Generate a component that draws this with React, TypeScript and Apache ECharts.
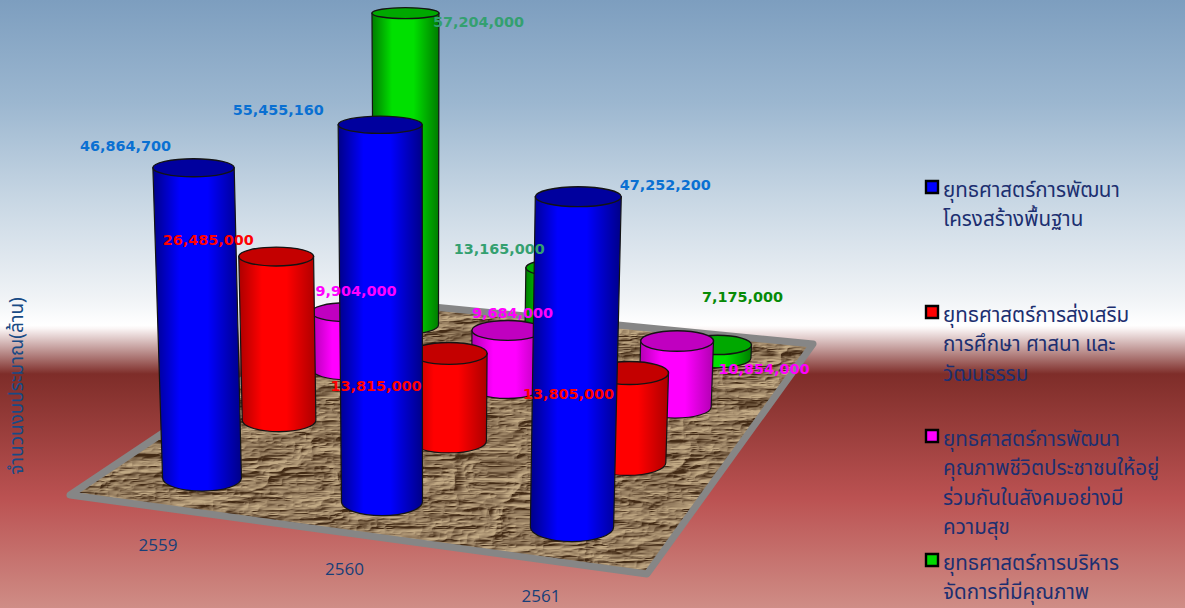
import React, { useEffect, useRef } from "react";
import * as echarts from "echarts";

// ---- data ----
const years = ["2559", "2560", "2561"];
const infrastructure = [46864700, 55455160, 47252200];
const education = [26485000, 13815000, 13805000];
const qualityOfLife = [9904000, 9684000, 10854000];
const management = [57204000, 13165000, 7175000];
const strategyNames = [
  "ยุทธศาสตร์การพัฒนา\nโครงสร้างพื้นฐาน",
  "ยุทธศาสตร์การส่งเสริม\nการศึกษา ศาสนา และ\nวัฒนธรรม",
  "ยุทธศาสตร์การพัฒนา\nคุณภาพชีวิตประชาชนให้อยู่\nร่วมกันในสังคมอย่างมี\nความสุข",
  "ยุทธศาสตร์การบริหาร\nจัดการที่มีคุณภาพ",
];
const axisTitle = "จำนวนงบประมาณ(ล้าน)";
const strategyValues = [infrastructure, education, qualityOfLife, management];

// ---- styles and layout ----
const FONT_THAI = "'Noto Sans Thai','Noto Sans','DejaVu Sans',sans-serif";
const palette = [
  { bright: "#0000ff", edge: "#000088", top: "#00009e", swatch: "#0000ff" },
  { bright: "#ff0000", edge: "#ac0000", top: "#c40000", swatch: "#ff0000" },
  { bright: "#ff00ff", edge: "#b000b0", top: "#c000c0", swatch: "#ff00ff" },
  { bright: "#00e000", edge: "#007c00", top: "#00a800", swatch: "#00d800" },
];
const labelColors = [
  ["#0a70d2", "#0a70d2", "#0a70d2"],
  ["#ff0000", "#ff0000", "#ff0000"],
  ["#ff00ff", "#ff00ff", "#ff00ff"],
  ["#34a070", "#34a070", "#078a07"],
];
// Where each value label sits relative to the top centre of its cylinder.
const labelOffsets = [
  [[-68, -22], [-102, -15], [87, -12]],
  [[-68, -17], [-73, 33], [-61, 21]],
  [[10, -21], [5, -17], [87, 28]],
  [[73, 9], [-60, -19], [25, -48]],
];
// The reference draws this one cylinder far shorter than its printed value.
const heightFit = [
  [1, 1, 1],
  [1, 1, 1],
  [1, 1, 1],
  [1, 1, 0.32],
];
const legendLayout = [
  { swatchY: 180, lineY: 190 },
  { swatchY: 305, lineY: 315 },
  { swatchY: 429, lineY: 439 },
  { swatchY: 553, lineY: 563 },
];
const LINE_HEIGHT = 29.6;

// Floor plane: where the base centres of the corner cylinders fall.
const P00 = [202, 478];
const P10 = [572, 527];
const P11 = [717, 358];
const P01 = [406, 325];

function makeHomography() {
  const [x0, y0] = P00, [x1, y1] = P10, [x2, y2] = P11, [x3, y3] = P01;
  const sx = x0 - x1 + x2 - x3, sy = y0 - y1 + y2 - y3;
  const dx1 = x1 - x2, dx2 = x3 - x2, dy1 = y1 - y2, dy2 = y3 - y2;
  const den = dx1 * dy2 - dx2 * dy1;
  const g = (sx * dy2 - dx2 * sy) / den;
  const h = (dx1 * sy - sx * dy1) / den;
  const a = x1 - x0 + g * x1, b = x3 - x0 + h * x3;
  const d = y1 - y0 + g * y1, e = y3 - y0 + h * y3;
  const wRef = g * 0.5 + 1;
  return (cat: number, row: number) => {
    const p = cat / 2, q = row / 3;
    const w = g * p + h * q + 1;
    return { x: (a * p + b * q + x0) / w, y: (d * p + e * q + y0) / w, s: wRef / w };
  };
}
const project = makeHomography();

function topOf(api: any, cat: number, row: number, value: number) {
  const base = project(cat, row);
  const zero = api.coord([cat, 0])[1];
  const high = api.coord([cat, value])[1];
  const h = (zero - high) * base.s * heightFit[row][cat];
  const r = 40.5 * base.s;
  const rTop = r * (1 + h * 0.0001);
  const topX = base.x + ((base.x - 420) * h) / 8000;
  const topY = base.y - h;
  const flat = (y: number) => 0.16 + 0.00036 * y;
  return { base, r, rTop, topX, topY, ryB: r * flat(base.y), ryT: rTop * flat(topY) };
}

function cylinderRenderer(row: number) {
  return (_params: any, api: any) => {
    const cat = api.value(0);
    const t = topOf(api, cat, row, api.value(1));
    const c = palette[row];
    const { base, r, rTop, topX, topY, ryB, ryT } = t;
    const d =
      `M ${base.x - r} ${base.y} A ${r} ${ryB} 0 0 0 ${base.x + r} ${base.y} ` +
      `L ${topX + rTop} ${topY} L ${topX - rTop} ${topY} Z`;
    return {
      type: "group",
      children: [
        {
          type: "path",
          shape: { pathData: d },
          style: {
            fill: new echarts.graphic.LinearGradient(0, 0, 1, 0, [
              { offset: 0, color: c.edge },
              { offset: 0.3, color: c.bright },
              { offset: 0.62, color: c.bright },
              { offset: 1, color: c.edge },
            ]),
            stroke: "#141414",
            lineWidth: 1.2,
          },
        },
        {
          type: "ellipse",
          shape: { cx: topX, cy: topY, rx: rTop, ry: ryT },
          style: { fill: c.top, stroke: "#141414", lineWidth: 1.4 },
        },
      ],
    };
  };
}

function renderValueLabel(_params: any, api: any) {
  const cat = api.value(0);
  const value = api.value(1);
  const row = api.value(2);
  const t = topOf(api, cat, row, value);
  const [dx, dy] = labelOffsets[row][cat];
  return {
    type: "text",
    x: t.topX + dx,
    y: t.topY + dy,
    style: {
      text: Number(value).toLocaleString("en-US"),
      fill: labelColors[row][cat],
      font: "bold 14.4px 'DejaVu Sans',sans-serif",
      align: "center",
      verticalAlign: "middle",
    },
  };
}

function renderYearLabel(_params: any, api: any) {
  const cat = api.value(0);
  const p = project(cat, 0);
  return {
    type: "text",
    x: p.x - 44 + 6.5 * cat,
    y: p.y + 66 + cat,
    style: {
      text: years[cat],
      fill: "#173f78",
      font: "17px 'Open Sans',sans-serif",
      align: "center",
      verticalAlign: "middle",
    },
  };
}

// A deterministic crumpled-paper texture for the floor.
function floorTexture(): string {
  const size = 512;
  const canvas = document.createElement("canvas");
  canvas.width = size;
  canvas.height = size;
  const ctx = canvas.getContext("2d")!;
  const lattice = (ix: number, iy: number, px: number, py: number) => {
    const a = ((ix % px) + px) % px, b = ((iy % py) + py) % py;
    const n = Math.sin(a * 127.1 + b * 311.7 + px * 3.3 + py * 1.7) * 43758.5453;
    return n - Math.floor(n);
  };
  const noise = (x: number, y: number, px: number, py: number) => {
    const ix = Math.floor(x), iy = Math.floor(y);
    let fx = x - ix, fy = y - iy;
    fx = fx * fx * (3 - 2 * fx);
    fy = fy * fy * (3 - 2 * fy);
    const top = lattice(ix, iy, px, py) * (1 - fx) + lattice(ix + 1, iy, px, py) * fx;
    const bot = lattice(ix, iy + 1, px, py) * (1 - fx) + lattice(ix + 1, iy + 1, px, py) * fx;
    return top * (1 - fy) + bot * fy;
  };
  const hgt = new Float32Array(size * size);
  for (let y = 0; y < size; y++) {
    for (let x = 0; x < size; x++) {
      let v = 0, amp = 1, fx = 9, fy = 30;
      for (let o = 0; o < 4; o++) {
        const warp = noise((x / size) * 16, (y / size) * 16, 16, 16) * 1.2;
        const n = noise((x / size) * fx + warp, (y / size) * fy, fx, fy);
        v += amp * (1 - Math.abs(2 * n - 1));
        amp *= 0.6;
        fx *= 2;
        fy *= 2;
      }
      hgt[y * size + x] = v;
    }
  }
  const img = ctx.createImageData(size, size);
  for (let y = 0; y < size; y++) {
    for (let x = 0; x < size; x++) {
      const i = y * size + x;
      const i2 = ((y + 1) % size) * size + ((x + 1) % size);
      const shade = Math.max(-1, Math.min(1, (hgt[i2] - hgt[i]) * 5));
      const o = i * 4;
      const k = shade < 0 ? 80 : 48;
      img.data[o] = 146 + shade * k;
      img.data[o + 1] = 122 + shade * k;
      img.data[o + 2] = 93 + shade * (k - 8);
      img.data[o + 3] = 255;
    }
  }
  ctx.putImageData(img, 0, 0);
  return canvas.toDataURL("image/png");
}

function legendGraphics() {
  const out: any[] = [];
  strategyNames.forEach((name, i) => {
    const layout = legendLayout[i];
    out.push({
      type: "rect",
      shape: { x: 926, y: layout.swatchY + 1, width: 12, height: 12 },
      style: { fill: palette[i].swatch, stroke: "#000", lineWidth: 2.4 },
    });
    name.split("\n").forEach((line, k) => {
      out.push({
        type: "text",
        x: 943,
        y: layout.lineY + k * LINE_HEIGHT,
        style: {
          text: line,
          fill: "#1c2f70",
          font: `20.6px ${FONT_THAI}`,
          align: "left",
          verticalAlign: "middle",
        },
      });
    });
  });
  return out;
}

export default function App() {
  const ref = useRef<HTMLDivElement>(null);
  useEffect(() => {
    const chart = echarts.init(ref.current!, undefined, { renderer: "svg" });
    const texture = floorTexture();
    const labelRows: number[][] = [];
    strategyValues.forEach((vals, row) => vals.forEach((v, cat) => labelRows.push([cat, v, row])));
    chart.setOption({
      animation: false,
      backgroundColor: new echarts.graphic.LinearGradient(0, 0, 0, 1, [
        { offset: 0, color: "#7d9ebf" },
        { offset: 0.17, color: "#9cb7d0" },
        { offset: 0.33, color: "#c8d7e4" },
        { offset: 0.49, color: "#f0f3f6" },
        { offset: 0.535, color: "#ffffff" },
        { offset: 0.54, color: "#fbf6f6" },
        { offset: 0.615, color: "#7e2d29" },
        { offset: 0.82, color: "#bb5252" },
        { offset: 1, color: "#cf8d86" },
      ]),
      grid: { left: 59, top: 182, width: 800, height: 408 },
      xAxis: { type: "category", data: years, show: false },
      yAxis: {
        type: "value",
        min: 0,
        max: 60000000,
        name: axisTitle,
        nameLocation: "middle",
        nameRotate: 90,
        nameGap: 35,
        nameTextStyle: { color: "#174a85", fontSize: 19, fontFamily: FONT_THAI },
        axisLine: { show: false },
        axisTick: { show: false },
        axisLabel: { show: false },
        splitLine: { show: false },
      },
      graphic: [
        {
          type: "polygon",
          shape: { points: [[70, 495], [362, 300], [813, 344], [647, 574]] },
          style: {
            fill: { type: "pattern", image: texture, repeat: "repeat", imageWidth: 512, imageHeight: 512 },
            stroke: "#868686",
            lineWidth: 7,
            lineJoin: "round",
          },
        },
        ...legendGraphics(),
      ],
      series: [
        ...strategyValues.map((vals, row) => ({
          type: "custom",
          name: strategyNames[row].replace(/\n/g, " "),
          coordinateSystem: "cartesian2d",
          z: 8 - row,
          silent: true,
          renderItem: cylinderRenderer(row),
          encode: { x: 0, y: 1 },
          data: vals.map((v, cat) => [cat, v]),
        })),
        {
          type: "custom",
          name: "value labels",
          coordinateSystem: "cartesian2d",
          z: 20,
          silent: true,
          renderItem: renderValueLabel,
          encode: { x: 0, y: 1 },
          data: labelRows,
        },
        {
          type: "custom",
          name: "years",
          coordinateSystem: "cartesian2d",
          z: 20,
          silent: true,
          renderItem: renderYearLabel,
          encode: { x: 0, y: 1 },
          data: years.map((_y, cat) => [cat, 0]),
        },
      ],
    });
    return () => chart.dispose();
  }, []);
  return (
    <div
      ref={ref}
      style={{ position: "fixed", left: 0, top: 0, width: 1185, height: 608 }}
    />
  );
}
